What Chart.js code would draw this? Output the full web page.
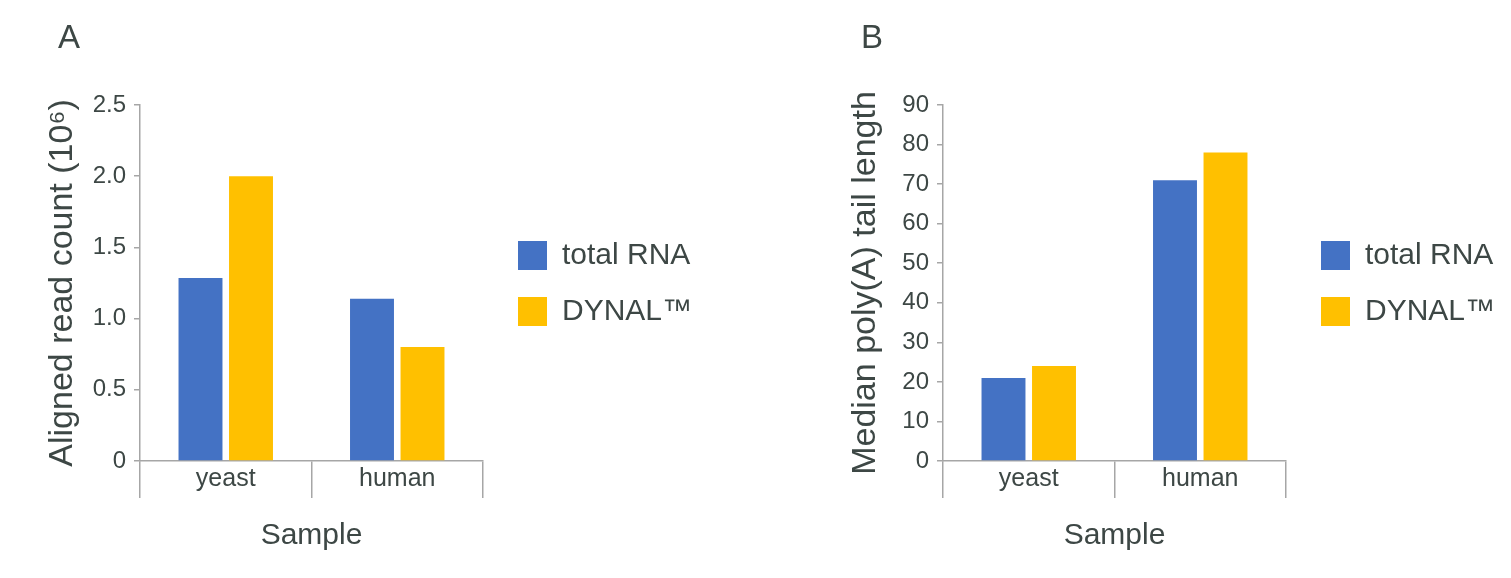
<!DOCTYPE html>
<html>
<head>
<meta charset="utf-8">
<script src="https://cdn.jsdelivr.net/npm/chart.js@4"></script>
<style>
  html, body { margin: 0; padding: 0; background: #fff; }
  .panel { position: absolute; top: 0; width: 708px; height: 578px; }
</style>
</head>
<body>
<div class="panel" style="left:0"><canvas id="chartA"></canvas></div>
<div class="panel" style="left:803px"><canvas id="chartB"></canvas></div>
<script>
var samples = ['yeast', 'human'];
var seriesNames = ['total RNA', 'DYNAL\u2122'];
var seriesColors = ['#4472c4', '#ffc000'];

// panel A: aligned read count (10^6)
var readsTotalRNA = [1.285, 1.14];
var readsDynal = [2.0, 0.80];
var ticksA = ['0', '0.5', '1.0', '1.5', '2.0', '2.5'];

// panel B: median poly(A) tail length
var tailTotalRNA = [21, 71];
var tailDynal = [24, 78];
var ticksB = ['0', '10', '20', '30', '40', '50', '60', '70', '80', '90'];

var textColor = '#3d4745';
var axisColor = '#a6a6a6';
var family = '"Liberation Sans", Arial, sans-serif';
var plotRight = 483;

// move the legend a bit off the plot and give it room so the text isn't clipped
var legendShift = {
  id: 'legendShift',
  afterLayout: function (chart) {
    var lg = chart.legend;
    lg.left += 9;
    lg.width = 260;
    lg.right = lg.left + lg.width;
    lg.top += 8;
    lg.bottom += 8;
  }
};

function makeChart(id, letter, yTitle, values, maxY, step, tickLabels) {
  var ctx = document.getElementById(id).getContext('2d');
  return new Chart(ctx, {
    type: 'bar',
    data: {
      labels: samples,
      datasets: values.map(function (v, i) {
        return {
          label: seriesNames[i],
          data: v,
          backgroundColor: seriesColors[i],
          borderWidth: 0,
          categoryPercentage: 0.589,
          barPercentage: 0.87
        };
      })
    },
    options: {
      responsive: true,
      maintainAspectRatio: false,
      animation: false,
      layout: { padding: { left: 58, top: 0, right: 0, bottom: 27 } },
      plugins: {
        tooltip: { enabled: false },
        title: {
          display: true,
          text: letter,
          align: 'start',
          color: textColor,
          font: { family: family, size: 33, weight: 'normal', lineHeight: 1 },
          padding: { top: 22, bottom: 50 }
        },
        legend: {
          position: 'right',
          align: 'center',
          labels: {
            boxWidth: 29,
            boxHeight: 29,
            padding: 26,
            color: textColor,
            font: { family: family, size: 30 }
          }
        }
      },
      scales: {
        x: {
          offset: true,
          afterFit: function (scale) { scale.height = 90; },
          grid: {
            offset: true,
            drawOnChartArea: false,
            drawTicks: true,
            tickLength: 37,
            color: axisColor,
            lineWidth: 1.5
          },
          border: { color: axisColor, width: 1.5 },
          ticks: {
            color: textColor,
            padding: -34,
            font: { family: family, size: 25 }
          },
          title: {
            display: true,
            text: 'Sample',
            color: textColor,
            font: { family: family, size: 30, lineHeight: 1 },
            padding: 0
          }
        },
        y: {
          min: 0,
          max: maxY,
          afterFit: function (scale) { scale.width = 82; },
          grid: {
            drawOnChartArea: false,
            drawTicks: true,
            tickLength: 6,
            color: axisColor,
            lineWidth: 1.5
          },
          border: { color: axisColor, width: 1.5 },
          ticks: {
            stepSize: step,
            color: textColor,
            padding: 8,
            font: { family: family, size: 24 },
            callback: function (value, index) { return tickLabels[index]; }
          },
          title: {
            display: true,
            text: yTitle,
            color: textColor,
            font: { family: family, size: 34, lineHeight: 1.2 },
            padding: { top: -16 }
          }
        }
      }
    },
    plugins: [legendShift]
  });
}

var chartA = makeChart('chartA', 'A', 'Aligned read count (10\u2076)', [readsTotalRNA, readsDynal], 2.5, 0.5, ticksA);
var chartB = makeChart('chartB', 'B', 'Median poly(A) tail length', [tailTotalRNA, tailDynal], 90, 10, ticksB);

// grow the right padding until the plot ends where the reference plot ends
// (the legend width is capped by the layout, so it shrinks as padding grows)
[chartA, chartB].forEach(function (c) {
  for (var k = 0; k < 4; k++) {
    var extra = c.chartArea.right - plotRight;
    if (Math.abs(extra) < 0.5) break;
    var pad = c.config.options.layout.padding;
    pad.right = Math.max(0, pad.right + extra / 0.75);
    c.update();
  }
});
</script>
</body>
</html>
